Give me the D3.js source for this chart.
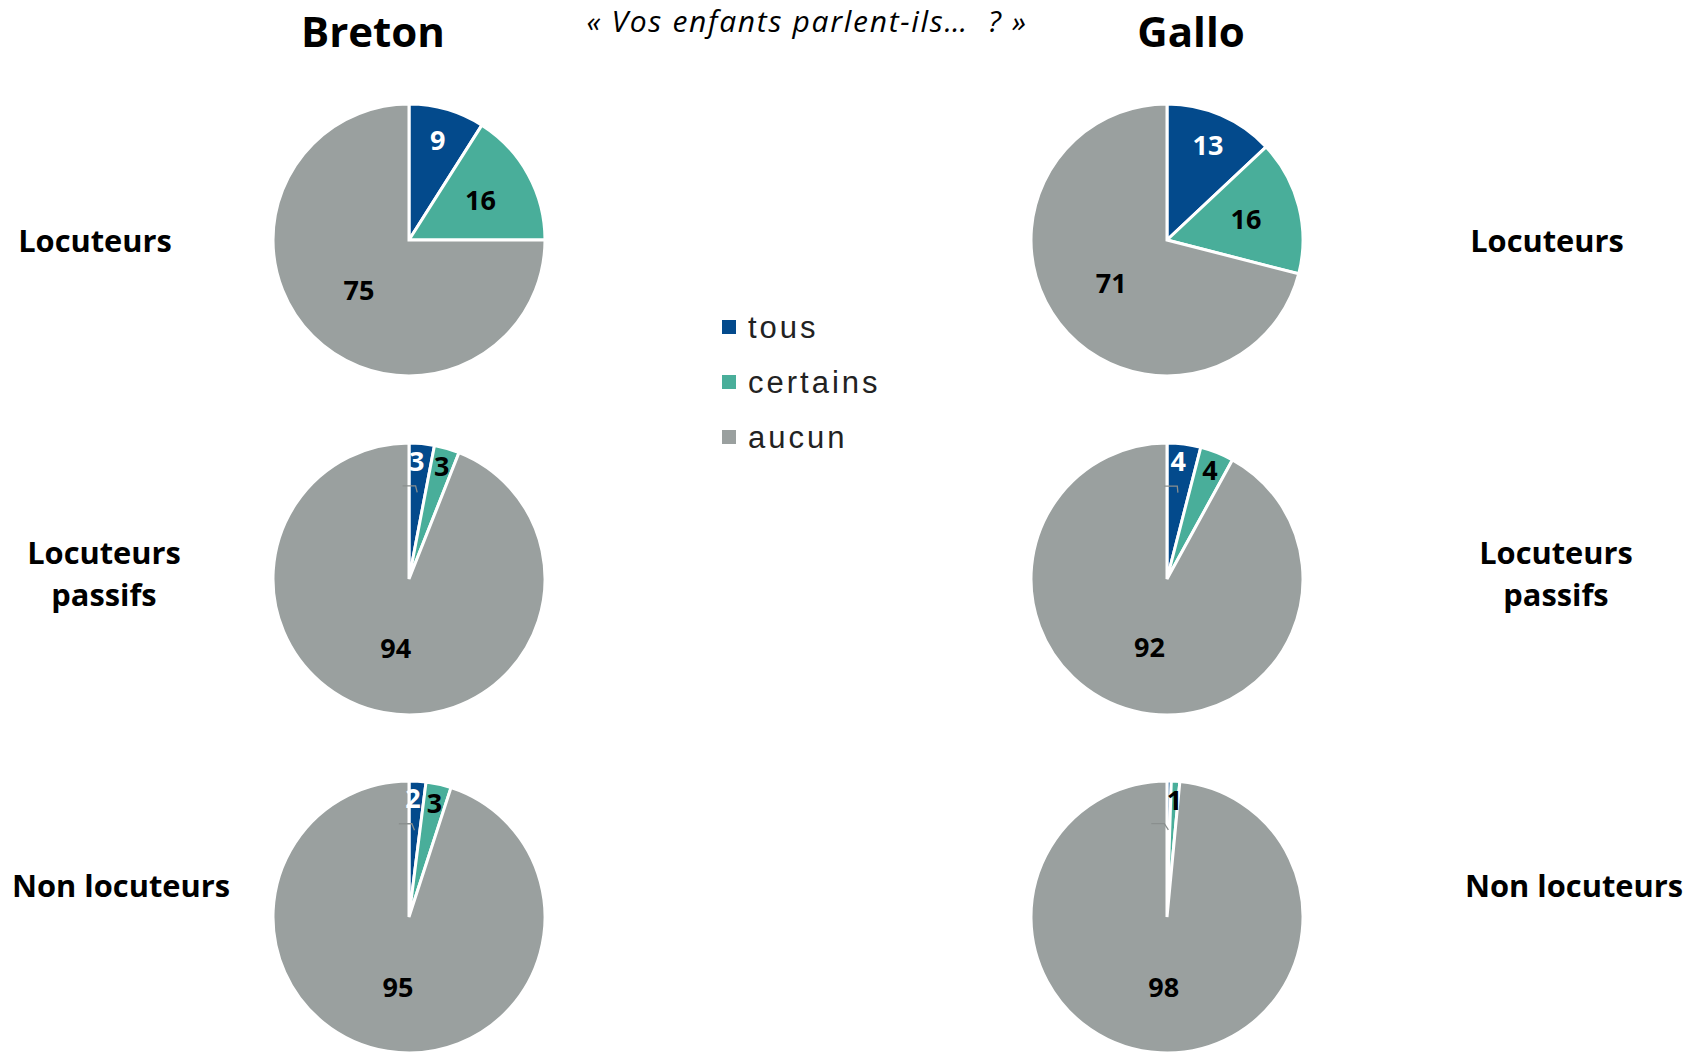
<!DOCTYPE html>
<html>
<head>
<meta charset="utf-8">
<script src="https://cdn.jsdelivr.net/npm/d3@7"></script>
<style>
  html, body { margin: 0; padding: 0; background: #ffffff; }
  svg { display: block; }
</style>
</head>
<body>
<script>
// ---- Data ----
const categories = ["tous", "certains", "aucun"];
const languages = ["Breton", "Gallo"];
const groups = ["Locuteurs", "Locuteurs passifs", "Non locuteurs"];
const bretonValues = [
  [9, 16, 75],   // Locuteurs
  [3, 3, 94],    // Locuteurs passifs
  [2, 3, 95]     // Non locuteurs
];
const galloValues = [
  [13, 16, 71],
  [4, 4, 92],
  [0.5, 1, 98]
];
const bretonLabels = [["9", "16", "75"], ["3", "3", "94"], ["2", "3", "95"]];
const galloLabels = [["13", "16", "71"], ["4", "4", "92"], ["", "1", "98"]];
const subtitle = "« Vos enfants parlent-ils…\u00a0\u00a0?\u00a0»";

// ---- Layout / style ----
const W = 1702, H = 1052;
const colors = d3.scaleOrdinal().domain(categories).range(["#034a8c", "#49ae9a", "#9aa09f"]);
const labelColors = d3.scaleOrdinal().domain(categories).range(["#ffffff", "#000000", "#000000"]);
const R = 136;
const colX = d3.scaleOrdinal().domain(languages).range([409, 1167]);
const rowY = d3.scaleOrdinal().domain(groups).range([240, 579, 917]);
const titleX = d3.scaleOrdinal().domain(languages).range([373, 1191]);

const svg = d3.select("body").append("svg").attr("width", W).attr("height", H);

// Titles
svg.selectAll("text.title").data(languages).join("text")
  .attr("class", "title")
  .attr("x", d => titleX(d)).attr("y", 47)
  .attr("text-anchor", "middle")
  .style("font-family", "'Open Sans', sans-serif").style("font-weight", 700)
  .style("font-size", "42px").attr("fill", "#000")
  .text(d => d);

svg.append("text")
  .attr("x", 807).attr("y", 32).attr("text-anchor", "middle")
  .style("font-family", "'Open Sans', sans-serif").style("font-style", "italic")
  .style("font-size", "30px").style("letter-spacing", "1.7px").attr("fill", "#000")
  .text(subtitle);

// Row labels (left and right)
const rowLabelLayout = {
  left: [{x: 95, y: 252}, {x: 104, y: 564}, {x: 121, y: 897}],
  right: [{x: 1547, y: 252}, {x: 1556, y: 564}, {x: 1574, y: 897}]
};
function rowLines(g) {
  return g === "Locuteurs passifs" ? ["Locuteurs", "passifs"] : [g];
}
["left", "right"].forEach(side => {
  groups.forEach((g, i) => {
    const lay = rowLabelLayout[side][i];
    rowLines(g).forEach((line, j) => {
      svg.append("text")
        .attr("x", lay.x).attr("y", lay.y + j * 42).attr("text-anchor", "middle")
        .style("font-family", "'Open Sans', sans-serif").style("font-weight", 700)
        .style("font-size", "30.8px").attr("fill", "#000")
        .text(line);
    });
  });
});

// Pies
const pie = d3.pie().sort(null).value(d => d.value);
const arc = d3.arc().innerRadius(0).outerRadius(R);

function labelRadius(v, idx) {
  if (v < 6) return 0.86 * R;
  if (idx === 0) return 0.76 * R;
  if (idx === 1) return 0.6 * R;
  return 0.52 * R;
}

function drawPie(lang, values, labels) {
  groups.forEach((g, gi) => {
    const data = categories.map((c, ci) => ({cat: c, value: values[gi][ci], label: labels[gi][ci], idx: ci}));
    const arcs = pie(data);
    const gp = svg.append("g").attr("transform", `translate(${colX(lang)},${rowY(g)})`);
    gp.selectAll("path").data(arcs).join("path")
      .attr("d", arc)
      .attr("fill", d => colors(d.data.cat))
      .attr("stroke", "#ffffff").attr("stroke-width", 3).attr("stroke-linejoin", "miter");

    arcs.forEach(a => {
      const mid = (a.startAngle + a.endAngle) / 2;
      const small = a.data.value < 6;
      const leader = small && a.data.idx === 0;
      let ang = mid;
      let r = labelRadius(a.data.value, a.data.idx);
      if (leader) { ang = mid - 0.03; r = 0.87 * R; }
      const lx = Math.sin(ang) * r, ly = -Math.cos(ang) * r;
      if (leader) {
        const ex = Math.sin(mid) * 0.64 * R, ey = -Math.cos(mid) * 0.64 * R;
        gp.append("polyline")
          .attr("points", [[lx - 14, ly + 25], [lx - 1, ly + 25], [ex, ey]].map(p => p.join(",")).join(" "))
          .attr("fill", "none").attr("stroke", "#8a8f8e").attr("stroke-width", 1.3);
      }
      if (a.data.label) {
        gp.append("text")
          .attr("x", lx).attr("y", ly).attr("dy", "0.36em")
          .attr("text-anchor", "middle")
          .style("font-family", "'Open Sans', sans-serif").style("font-weight", 700)
          .style("font-size", "27px")
          .attr("fill", labelColors(a.data.cat))
          .text(a.data.label);
      }
    });
  });
}
drawPie("Breton", bretonValues, bretonLabels);
drawPie("Gallo", galloValues, galloLabels);

// Legend
const legend = svg.append("g").attr("transform", "translate(722,338)");
const li = legend.selectAll("g").data(categories).join("g")
  .attr("transform", (d, i) => `translate(0,${i * 55})`);
li.append("rect").attr("x", 0).attr("y", -18).attr("width", 14).attr("height", 14)
  .attr("fill", d => colors(d));
li.append("text").attr("x", 26).attr("y", 0)
  .style("font-family", "'Liberation Sans', Arial, sans-serif")
  .style("font-size", "31px").style("letter-spacing", "3px").attr("fill", "#222")
  .text(d => d);
</script>
</body>
</html>
